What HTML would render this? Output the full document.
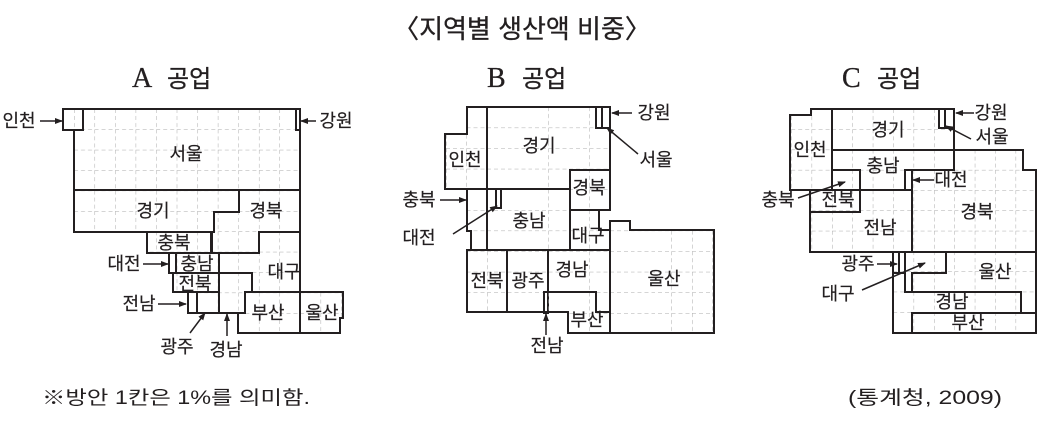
<!DOCTYPE html>
<html><head><meta charset="utf-8"><style>
html,body{margin:0;padding:0;background:#fff;}
svg{display:block;}
text{font-family:"Liberation Sans","Noto Sans CJK KR",sans-serif;fill:#231f20;}
</style></head><body>
<svg width="1044" height="425" viewBox="0 0 1044 425" xmlns="http://www.w3.org/2000/svg">
<defs>
<pattern id="gA" x="74" y="109" width="20.55" height="20.4" patternUnits="userSpaceOnUse">
<path d="M0 0H20.55M0 0V20.4" stroke="#aaa" stroke-width="1" stroke-dasharray="4 3" fill="none"/></pattern>
<pattern id="gB" x="487" y="107" width="20.5" height="20.6" patternUnits="userSpaceOnUse">
<path d="M0 0H20.5M0 0V20.6" stroke="#aaa" stroke-width="1" stroke-dasharray="4 3" fill="none"/></pattern>
<pattern id="gC" x="832" y="109" width="20.4" height="20.3" patternUnits="userSpaceOnUse">
<path d="M0 0H20.4M0 0V20.3" stroke="#aaa" stroke-width="1" stroke-dasharray="4 3" fill="none"/></pattern>
<marker id="ar" markerWidth="8" markerHeight="8" refX="7" refY="4" orient="auto" markerUnits="userSpaceOnUse">
<path d="M0 1L8 4L0 7Z" fill="#231f20"/></marker>
</defs>

<text x="522" y="38" font-size="26" text-anchor="middle" stroke="#231f20" stroke-width="0.3">〈지역별 생산액 비중〉</text>

<g stroke="#231f20" stroke-width="0.3">
<text x="132" y="87" font-size="28" style="font-family:'Liberation Serif',serif">A</text>
<text x="167" y="87" font-size="24">공업</text>
<text x="487" y="87" font-size="28" style="font-family:'Liberation Serif',serif">B</text>
<text x="522" y="87" font-size="24">공업</text>
<text x="842" y="87" font-size="28" style="font-family:'Liberation Serif',serif">C</text>
<text x="877" y="87" font-size="24">공업</text>
</g>

<!-- Panel A -->
<g fill="url(#gA)" stroke="#231f20" stroke-width="2">
<path d="M83 109H296V130H300V190H74V130H83Z"/>
<rect x="63" y="109" width="20" height="21"/>
<rect x="296" y="109" width="4" height="21"/>
<path d="M74 190H239V212H214V232H74Z"/>
<path d="M239 190H300V232H259V253H212V232H214V212H239Z"/>
<path d="M212 253H259V232H300V292H245V292H252V273H219V253Z"/>
<path d="M147 232H211V253H147Z"/>
<path d="M169 253H176V273H169Z"/>
<path d="M176 253H219V273H176Z"/>
<path d="M173 273H219V292H173Z"/>
<path d="M219 273H252V292H245V313H219Z"/>
<path d="M188 292H197V313H188Z"/>
<path d="M197 292H219V313H197Z"/>
<path d="M245 292H300V333H238V313H245Z"/>
<path d="M300 292H343V318H340V333H300Z"/>
</g>
<g font-size="18" text-anchor="middle" stroke="#231f20" stroke-width="0.2">
<text x="186" y="160">서울</text>
<text x="153" y="217">경기</text>
<text x="266" y="217">경북</text>
<text x="174" y="249">충북</text>
<text x="197" y="270">충남</text>
<text x="195" y="290">전북</text>
<text x="284" y="278">대구</text>
<text x="268" y="319">부산</text>
<text x="322" y="319">울산</text>
<text x="19" y="127">인천</text>
<text x="336" y="127">강원</text>
<text x="124" y="270">대전</text>
<text x="139" y="310">전남</text>
<text x="177" y="353">광주</text>
<text x="226" y="356">경남</text>
</g>
<g stroke="#231f20" stroke-width="1.5" marker-end="url(#ar)">
<line x1="40" y1="121" x2="62" y2="121"/>
<line x1="316" y1="121" x2="301" y2="121"/>
<line x1="143" y1="264" x2="168" y2="264"/>
<line x1="158" y1="304" x2="186" y2="304"/>
<line x1="190" y1="333" x2="205" y2="313"/>
<line x1="227" y1="336" x2="227" y2="314"/>
</g>

<!-- Panel B -->
<g fill="url(#gB)" stroke="#231f20" stroke-width="2">
<path d="M467 107H487V189H445V134H467Z"/>
<path d="M487 107H610V170H570V189H487Z"/>
<rect x="596" y="107" width="6" height="21"/>
<rect x="602" y="107" width="8" height="21"/>
<path d="M467 189H487V250H471V231H467Z"/>
<path d="M487 189H570V250H487Z"/>
<rect x="496" y="189" width="5" height="19"/>
<rect x="570" y="170" width="40" height="40"/>
<path d="M570 210H599V230H610V250H570Z"/>
<path d="M610 221H630V230H714V333H610Z"/>
<rect x="467" y="250" width="40" height="62"/>
<rect x="507" y="250" width="41" height="62"/>
<path d="M548 250H610V312H596V292H548Z"/>
<path d="M544 292H596V312H610V333H568V312H548V313H544Z"/>
</g>
<g font-size="18" text-anchor="middle" stroke="#231f20" stroke-width="0.2">
<text x="539" y="152">경기</text>
<text x="465" y="166">인천</text>
<text x="529" y="227">충남</text>
<text x="589" y="194">경북</text>
<text x="588" y="242">대구</text>
<text x="664" y="285">울산</text>
<text x="487" y="287">전북</text>
<text x="528" y="287">광주</text>
<text x="572" y="276">경남</text>
<text x="587" y="326">부산</text>
<text x="654" y="119">강원</text>
<text x="656" y="166">서울</text>
<text x="419" y="206">충북</text>
<text x="419" y="244">대전</text>
<text x="547" y="352">전남</text>
</g>
<g stroke="#231f20" stroke-width="1.5" marker-end="url(#ar)">
<line x1="632" y1="113" x2="612" y2="113"/>
<line x1="638" y1="154" x2="607" y2="128"/>
<line x1="440" y1="200" x2="466" y2="200"/>
<line x1="453" y1="234" x2="497" y2="206"/>
<line x1="546" y1="335" x2="546" y2="314"/>
</g>

<!-- Panel C -->
<g fill="url(#gC)" stroke="#231f20" stroke-width="2">
<path d="M790 115H811V109H832V190H790Z"/>
<path d="M832 109H954V150H832Z"/>
<rect x="939" y="109" width="6" height="19"/>
<rect x="945" y="109" width="9" height="19"/>
<path d="M832 150H954V170H905V190H860V170H832Z"/>
<rect x="832" y="170" width="28" height="20"/>
<rect x="905" y="170" width="7" height="20"/>
<path d="M954 150H1023V170H1036V252H912V190H905V170H954Z"/>
<rect x="810" y="190" width="50" height="22"/>
<path d="M810 212H860V190H912V252H810Z"/>
<path d="M893 252H899V273H893Z"/>
<rect x="899" y="252" width="6" height="21"/>
<path d="M905 252H946V273H912V292H905Z"/>
<path d="M946 252H1036V313H1021V292H912V273H946Z"/>
<path d="M893 273H905V292H1021V313H912V333H893Z"/>
<rect x="912" y="313" width="124" height="20"/>
</g>
<g font-size="18" text-anchor="middle" stroke="#231f20" stroke-width="0.2">
<text x="888" y="136">경기</text>
<text x="810" y="156">인천</text>
<text x="883" y="172">충남</text>
<text x="838" y="206">전북</text>
<text x="977" y="218">경북</text>
<text x="880" y="234">전남</text>
<text x="995" y="278">울산</text>
<text x="952" y="308">경남</text>
<text x="968" y="329">부산</text>
<text x="991" y="119">강원</text>
<text x="992" y="143">서울</text>
<text x="951" y="186">대전</text>
<text x="778" y="206">충북</text>
<text x="858" y="270">광주</text>
<text x="838" y="300">대구</text>
</g>
<g stroke="#231f20" stroke-width="1.5" marker-end="url(#ar)">
<line x1="974" y1="113" x2="956" y2="113"/>
<line x1="971" y1="139" x2="946" y2="126"/>
<line x1="934" y1="180" x2="913" y2="180"/>
<line x1="798" y1="198" x2="845" y2="182"/>
<line x1="877" y1="264" x2="897" y2="264"/>
<line x1="862" y1="290" x2="925" y2="263"/>
</g>

<text x="42" y="404" font-size="19" textLength="268" lengthAdjust="spacingAndGlyphs">※방안 1칸은 1%를 의미함.</text>
<text x="848" y="404" font-size="19" textLength="154" lengthAdjust="spacingAndGlyphs">(통계청, 2009)</text>
</svg>
</body></html>
